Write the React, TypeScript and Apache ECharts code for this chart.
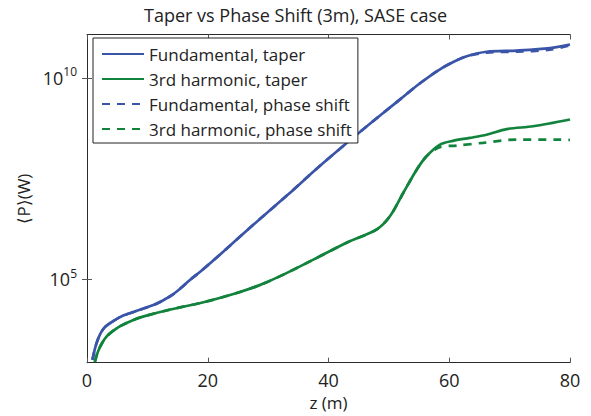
import React, { useEffect, useRef } from "react";
import * as echarts from "echarts";

const titleText = "Taper vs Phase Shift (3m), SASE case";
const xName = "z (m)";
const yName = "⟨P⟩(W)";
const yTicks = [1e5, 1e10];
const seriesNames = [
  "Fundamental, taper",
  "3rd harmonic, taper",
  "Fundamental, phase shift",
  "3rd harmonic, phase shift",
];

const fundTaperZ = [0.9, 1.5, 2.2, 3.0, 4.4, 6.0, 8.0, 11.0, 12.5, 14.0, 15.5, 17.0, 19.0, 22.1, 27.6, 33.1, 38.6, 45.7, 51.8, 55.0, 58.4, 61.0, 62.9, 66.2, 71.1, 76.7, 80];
const fundTaperP = [1.0e3, 2.4e3, 4.4e3, 6.6e3, 9.3e3, 1.26e4, 1.6e4, 2.3e4, 2.95e4, 3.98e4, 6.0e4, 9.5e4, 1.66e5, 4.2e5, 2.3e6, 1.2e7, 6.6e7, 5.25e8, 2.9e9, 7.1e9, 1.62e10, 2.63e10, 3.47e10, 4.47e10, 4.79e10, 5.5e10, 6.76e10];

const fundPhaseZ = [0.9, 1.5, 2.2, 3.0, 4.4, 6.0, 8.0, 11.0, 12.5, 14.0, 15.5, 17.0, 19.0, 22.1, 27.6, 33.1, 38.6, 45.7, 51.8, 55.0, 58.4, 61.0, 62.9, 66.2, 71.1, 76.7, 80];
const fundPhaseP = [1.0e3, 2.4e3, 4.4e3, 6.6e3, 9.3e3, 1.26e4, 1.6e4, 2.3e4, 2.95e4, 3.98e4, 6.0e4, 9.5e4, 1.66e5, 4.2e5, 2.3e6, 1.2e7, 6.6e7, 5.25e8, 2.9e9, 7.1e9, 1.62e10, 2.63e10, 3.47e10, 4.27e10, 4.47e10, 5.01e10, 6.46e10];

const harmTaperZ = [1.3, 1.8, 2.5, 3.3, 4.5, 5.5, 7.5, 9.4, 13.8, 19.3, 24.8, 28.5, 32.0, 37.5, 43.0, 48.0, 50.2, 52.4, 54.6, 56.2, 58.4, 60.6, 63.4, 66.2, 69.5, 73.9, 80];
const harmTaperP = [8.9e2, 1.58e3, 2.63e3, 3.89e3, 5.5e3, 6.9e3, 9.55e3, 1.2e4, 1.78e4, 2.69e4, 4.57e4, 7.08e4, 1.2e5, 3.09e5, 8.13e5, 1.74e6, 3.72e6, 1.41e7, 5.25e7, 1.12e8, 2.19e8, 2.75e8, 3.24e8, 3.89e8, 5.37e8, 6.31e8, 9.33e8];

const harmPhaseZ = [1.3, 1.8, 2.5, 3.3, 4.5, 5.5, 7.5, 9.4, 13.8, 19.3, 24.8, 28.5, 32.0, 37.5, 43.0, 48.0, 50.2, 52.4, 54.6, 56.2, 58.4, 61.2, 65.6, 71.1, 78.3, 80];
const harmPhaseP = [8.9e2, 1.58e3, 2.63e3, 3.89e3, 5.5e3, 6.9e3, 9.55e3, 1.2e4, 1.78e4, 2.69e4, 4.57e4, 7.08e4, 1.2e5, 3.09e5, 8.13e5, 1.74e6, 3.72e6, 1.41e7, 5.25e7, 1.12e8, 1.91e8, 2.09e8, 2.45e8, 2.95e8, 2.95e8, 2.88e8];

const BLUE = "#3a55a8";
const GREEN = "#12833c";
const FONT = "Open Sans";
const Y_MIN = 851;
const Y_MAX = 1.2e11;

const zip = (xs: number[], ys: number[]) => xs.map((x, i) => [x, ys[i]]);

export default function App() {
  const ref = useRef<HTMLDivElement>(null);
  useEffect(() => {
    if (!ref.current) return;
    const chart = echarts.init(ref.current, undefined, { renderer: "svg" });
    const axisLine = { show: true, lineStyle: { color: "#2b2b2b", width: 1 } };
    const tick = { show: true, inside: true, length: 5, lineStyle: { color: "#555", width: 1 } };
    const mkLine = (name: string, data: number[][], color: string, dashed: boolean) => ({
      name,
      type: "line",
      data,
      smooth: 0.3,
      symbol: "none",
      xAxisIndex: 0,
      yAxisIndex: 0,
      lineStyle: { color, width: 2.7, type: dashed ? [8, 7] : "solid" },
      itemStyle: { color },
      z: dashed ? 3 : 2,
    });
    const supFmt = (v: number) => `{b|10}{s|${Math.round(Math.log10(v))}}`;
    chart.setOption({
      animation: false,
      backgroundColor: "#ffffff",
      textStyle: { fontFamily: FONT },
      title: {
        text: titleText,
        left: 139,
        top: 1,
        textStyle: { fontFamily: FONT, fontSize: 18, fontWeight: "normal", color: "#222" },
      },
      legend: {
        data: seriesNames,
        orient: "vertical",
        left: 93,
        top: 38,
        itemWidth: 42,
        itemHeight: 14,
        itemGap: 5,
        padding: [6, 6, 4, 8],
        borderColor: "#222",
        borderWidth: 1,
        backgroundColor: "#ffffff",
        itemStyle: { opacity: 0 },
        textStyle: { fontFamily: FONT, fontSize: 17, color: "#222", lineHeight: 20 },
      },
      grid: { left: 87, right: 21, top: 34.5, bottom: 53.3 },
      xAxis: [
        {
          type: "value",
          min: 0,
          max: 80,
          interval: 20,
          name: xName,
          nameLocation: "middle",
          nameGap: 30,
          nameTextStyle: { fontFamily: FONT, fontSize: 17, color: "#222" },
          axisLine,
          axisTick: tick,
          axisLabel: { fontFamily: FONT, fontSize: 18, color: "#222", margin: 8 },
          splitLine: { show: false },
        },
        {
          type: "value",
          position: "top",
          min: 0,
          max: 80,
          interval: 20,
          axisLine,
          axisTick: tick,
          axisLabel: { show: false },
          splitLine: { show: false },
        },
      ],
      yAxis: [
        {
          type: "log",
          min: Y_MIN,
          max: Y_MAX,
          name: yName,
          nameLocation: "middle",
          nameGap: 52,
          nameTextStyle: { fontFamily: FONT, fontSize: 17, color: "#222" },
          axisLine,
          axisTick: { ...tick, customValues: yTicks },
          axisLabel: {
            customValues: yTicks,
            margin: 10,
            formatter: supFmt,
            rich: {
              b: { fontFamily: FONT, fontSize: 18, color: "#222" },
              s: { fontFamily: FONT, fontSize: 12, color: "#222", padding: [0, 0, 12, 0] },
            },
          },
          splitLine: { show: false },
          minorTick: { show: false },
        },
        {
          type: "log",
          position: "right",
          min: Y_MIN,
          max: Y_MAX,
          axisLine,
          axisTick: { ...tick, customValues: yTicks },
          axisLabel: { show: false },
          splitLine: { show: false },
        },
      ],
      series: [
        mkLine(seriesNames[0], zip(fundTaperZ, fundTaperP), BLUE, false),
        mkLine(seriesNames[1], zip(harmTaperZ, harmTaperP), GREEN, false),
        mkLine(seriesNames[2], zip(fundPhaseZ, fundPhaseP), BLUE, true),
        mkLine(seriesNames[3], zip(harmPhaseZ, harmPhaseP), GREEN, true),
      ],
    });
    return () => chart.dispose();
  }, []);
  return <div ref={ref} style={{ width: 591, height: 416, position: "absolute", left: 0, top: 0 }} />;
}
